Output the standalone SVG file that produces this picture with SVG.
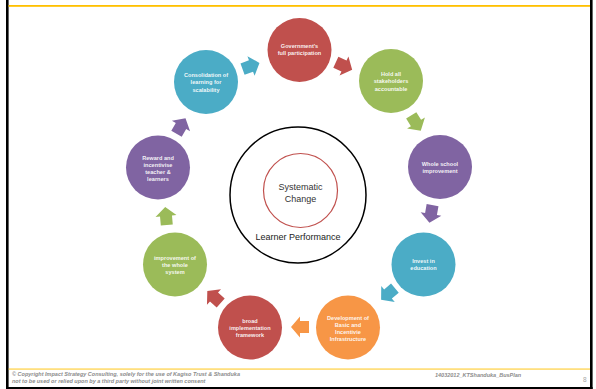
<svg xmlns="http://www.w3.org/2000/svg" width="596" height="389" viewBox="0 0 596 389">
<style>
.lbl{font-family:"Liberation Sans",Arial,sans-serif;font-size:5.6px;font-weight:bold;fill:#ffffff;fill-opacity:0.92;text-anchor:middle}
.ctr{font-family:"Liberation Sans",Arial,sans-serif;font-size:9px;fill:#333333;text-anchor:middle}
.foot{font-family:"Liberation Sans",Arial,sans-serif;font-size:5.5px;font-style:italic;font-weight:bold;fill:#8c8c8c}
</style>
<defs>
<path id="arr" d="M-9,-6 L0,-6 L0,-10.5 L9,0 L0,10.5 L0,6 L-9,6 Z"/>
</defs>
<rect x="0" y="0" width="596" height="389" fill="#ffffff"/>
<g id="frame">
<rect x="6" y="0" width="2.6" height="389" fill="#000"/>
<rect x="590" y="0" width="2.6" height="389" fill="#000"/>
<rect x="6" y="387" width="586.6" height="2" fill="#000"/>
<rect x="8.6" y="5" width="581.4" height="1.8" fill="#ffc000"/>
<rect x="8.6" y="368.6" width="581.4" height="0.9" fill="#ffc000"/>
</g>
<g id="connectors">
<use href="#arr" fill="#4bacc6" transform="translate(251,66) rotate(-20)"/>
<use href="#arr" fill="#c0504d" transform="translate(344,66) rotate(25)"/>
<use href="#arr" fill="#9bbb59" transform="translate(416,123) rotate(58)"/>
<use href="#arr" fill="#8064a2" transform="translate(431,214) rotate(100)"/>
<use href="#arr" fill="#4bacc6" transform="translate(388,294) rotate(140)"/>
<use href="#arr" fill="#f79646" transform="translate(300,327) rotate(180)"/>
<use href="#arr" fill="#c0504d" transform="translate(214,297) rotate(222)"/>
<use href="#arr" fill="#9bbb59" transform="translate(166,216) rotate(265)"/>
<use href="#arr" fill="#8064a2" transform="translate(181,126) rotate(300)"/>
</g>
<g id="center">
<circle cx="298" cy="195" r="68" fill="none" stroke="#000" stroke-width="1.5"/>
<circle cx="300.5" cy="190.5" r="37" fill="none" stroke="#c0504d" stroke-width="1.2"/>
<text class="ctr" x="300.5" y="190">Systematic</text>
<text class="ctr" x="300.5" y="201.5">Change</text>
<text class="ctr" x="298" y="240" style="fill:#222">Learner Performance</text>
</g>
<g id="n1">
<circle cx="299.5" cy="50" r="32" fill="#c0504d"/>
<text class="lbl" x="299.5" y="47.5">Government's</text>
<text class="lbl" x="299.5" y="55">full participation</text>
</g>
<g id="n2">
<circle cx="391" cy="81" r="32" fill="#9bbb59"/>
<text class="lbl" x="391" y="76">Hold all</text>
<text class="lbl" x="391" y="83.3">stakeholders</text>
<text class="lbl" x="391" y="90.6">accountable</text>
</g>
<g id="n3">
<circle cx="440" cy="167" r="32" fill="#8064a2"/>
<text class="lbl" x="440" y="166">Whole school</text>
<text class="lbl" x="440" y="173.3">improvement</text>
</g>
<g id="n4">
<circle cx="423.5" cy="264.5" r="32" fill="#4bacc6"/>
<text class="lbl" x="423.5" y="262.5">Invest in</text>
<text class="lbl" x="423.5" y="269.8">education</text>
</g>
<g id="n5">
<circle cx="348" cy="327.5" r="32" fill="#f79646"/>
<text class="lbl" x="348" y="319.5">Development of</text>
<text class="lbl" x="348" y="326.8">Basic and</text>
<text class="lbl" x="348" y="334.1">Incentivie</text>
<text class="lbl" x="348" y="341.4">Infrastructure</text>
</g>
<g id="n6">
<circle cx="250" cy="327.5" r="32" fill="#c0504d"/>
<text class="lbl" x="250" y="322.5">broad</text>
<text class="lbl" x="250" y="329.8">implementation</text>
<text class="lbl" x="250" y="337.1">framework</text>
</g>
<g id="n7">
<circle cx="175" cy="264.5" r="32" fill="#9bbb59"/>
<text class="lbl" x="175" y="259.5">improvement of</text>
<text class="lbl" x="175" y="266.8">the whole</text>
<text class="lbl" x="175" y="274.1">system</text>
</g>
<g id="n8">
<circle cx="158" cy="167.5" r="32" fill="#8064a2"/>
<text class="lbl" x="158" y="159.5">Reward and</text>
<text class="lbl" x="158" y="166.8">incentivise</text>
<text class="lbl" x="158" y="174.1">teacher &amp;</text>
<text class="lbl" x="158" y="181.4">learners</text>
</g>
<g id="n9">
<circle cx="206" cy="82" r="32" fill="#4bacc6"/>
<text class="lbl" x="206" y="77">Consolidation of</text>
<text class="lbl" x="206" y="84.3">learning for</text>
<text class="lbl" x="206" y="91.6">scalability</text>
</g>
<g id="footer">
<text class="foot" x="12" y="376">© Copyright Impact Strategy Consulting, solely for the use of Kagiso Trust &amp; Shanduka</text>
<text class="foot" x="12" y="383">not to be used or relied upon by a third party without joint written consent</text>
<text class="foot" x="435" y="377">14032012_KTShanduka_BusPlan</text>
<text x="583" y="382" style="font-family:'Liberation Sans',Arial,sans-serif;font-size:6.5px;fill:#a6a6a6">8</text>
</g>
</svg>
